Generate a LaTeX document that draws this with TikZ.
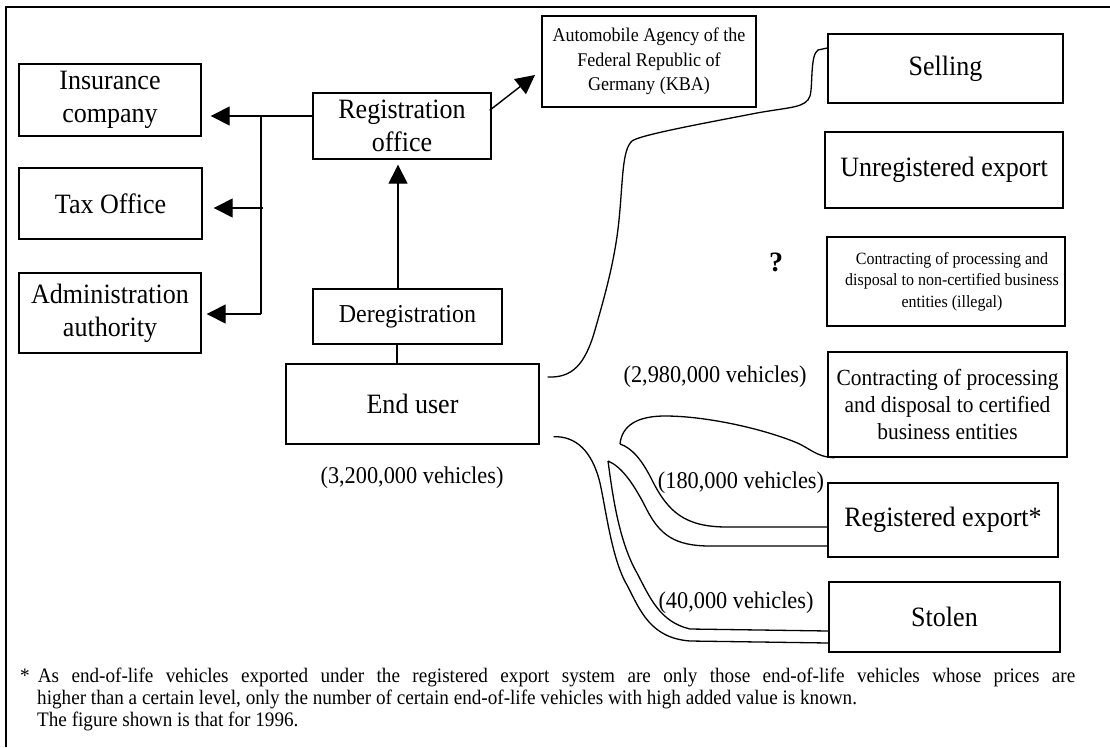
\documentclass[tikz,border=0pt]{standalone}
\usepackage{fontspec}
\setmainfont{Liberation Serif}
\newfontfamily\cond[FakeStretch=0.93]{Liberation Serif}
\usetikzlibrary{arrows.meta}
\begin{document}
\begin{tikzpicture}[x=1pt,y=-1pt,
  box/.style={draw, line width=1.4pt, inner sep=0pt, align=center},
  big/.style={font=\cond\fontsize{28}{33}\selectfont},
  mid/.style={font=\cond\fontsize{23.1}{27}\selectfont},
  small/.style={font=\cond\fontsize{19.4}{24.5}\selectfont},
  tiny/.style={font=\cond\fontsize{17.2}{21.5}\selectfont},
  lab/.style={font=\cond\fontsize{24}{27}\selectfont, inner sep=0pt},
  fn/.style={font=\cond\fontsize{20.6}{21.5}\selectfont, inner sep=0pt, anchor=base west},
  conn/.style={line width=1.4pt},
  arr/.style={line width=1.4pt, -{Triangle[length=19pt,width=19pt]}},
  flow/.style={line width=1.3pt},
  frame/.style={line width=2pt}]
\useasboundingbox (0,0) rectangle (1110,747);
% frame
\draw[frame] (6,747) -- (6,6.5) -- (1110,6.5);
% left column
\node[box, big, minimum width=182pt, minimum height=72pt] (ins) at (110,100) {Insurance\\company};
\node[box, big, minimum width=183pt, minimum height=71pt] (tax) at (110.5,203.5) {Tax Office};
\node[box, big, minimum width=182pt, minimum height=80pt] (adm) at (110,313) {Administration\\authority};
% center
\node[box, big, minimum width=178pt, minimum height=66pt] (reg) at (402,126) {Registration\\office};
\node[box, small, minimum width=214pt, minimum height=91pt] (kba) at (649,61.5) {Automobile Agency of the\\Federal Republic of\\Germany (KBA)};
\node[box, font=\cond\fontsize{25.8}{28}\selectfont, minimum width=189pt, minimum height=55pt] (dereg) at (407.5,316.5) {Deregistration};
\node[box, big, minimum width=253pt, minimum height=80pt] (end) at (412.5,404) {End user};
\node[lab] (l1) at (412,478) {(3,200,000 vehicles)};
% right column
\node[box, big, minimum width=235pt, minimum height=69pt] (sell) at (945.5,68.5) {Selling};
\node[box, big, minimum width=238pt, minimum height=76pt] (unreg) at (944,170) {Unregistered export};
\node[box, tiny, minimum width=238pt, minimum height=89pt] (noncert) at (946,281.5) {\hspace*{12pt}Contracting of processing and\\\hspace*{12pt}disposal to non-certified business\\\hspace*{12pt}entities (illegal)};
\node[box, mid, minimum width=239pt, minimum height=105pt] (cert) at (947.5,404.5) {Contracting of processing\\and disposal to certified\\business entities};
\node[box, big, minimum width=230pt, minimum height=74pt] (regexp) at (943,520) {Registered export*};
\node[box, big, minimum width=231pt, minimum height=70pt] (stolen) at (944.5,617) {Stolen};
\node[font=\bfseries\fontsize{28}{30}\selectfont, inner sep=0pt] (q) at (776,262) {?};
\node[lab] (l2) at (715,377) {(2,980,000 vehicles)};
\node[lab] (l3) at (741,483) {(180,000 vehicles)};
\node[lab] (l4) at (736,603) {(40,000 vehicles)};
% left connectors
\coordinate (j1) at (261,116);
\coordinate (j2) at (263,208);
\coordinate (j3) at (261,314);
\draw[arr, shorten >=9pt] ([yshift=10pt]reg.west) -- (ins.east |- j1);
\draw[conn] (j1) -- (261,314);
\draw[arr, shorten >=11pt] (j2) -- (tax.east |- j2);
\draw[arr, shorten >=5pt] (j3) -- (adm.east |- j3);
% registration connectors
\draw[arr, shorten >=5pt] ([xshift=-9.5pt]dereg.north) -- ([xshift=-9.5pt]dereg.north |- reg.south);
\draw[conn] ([xshift=-10.5pt]dereg.south) -- ([xshift=-10.5pt]dereg.south |- end.north);
\coordinate (kt) at (535,75);
\draw[arr] ([shift={(-2pt,-18pt)}]reg.north east) -- (kt);
% selling curve
\draw[flow] ([shift={(8pt,27pt)}]end.east) .. controls (572,378) and (585,365) .. (595,330)
  .. controls (605,295) and (615,260) .. (619,220)
  .. controls (623,180) and (622,150) .. (632,141)
  .. controls (640,135) and (700,124) .. (757,113)
  .. controls (790,107) and (806,108) .. (810,96)
  .. controls (813,85) and (810,55) .. (818,50)
  -- ([yshift=20.5pt]sell.west);
% lower flows
\coordinate (v1) at (608,461);
\coordinate (v2) at (620,444);
\draw[flow] ([shift={(14pt,8pt)}]end.south east) .. controls (575,436) and (592,450) .. (600,483)
  .. controls (606,510) and (612,560) .. (627,585)
  .. controls (640,610) and (650,638) .. (690,641) -- ([yshift=-26pt]stolen.west);
\draw[flow] (v1) .. controls (612,490) and (618,540) .. (637,573)
  .. controls (650,598) and (660,622) .. (690,629) -- ([yshift=-14pt]stolen.west);
\draw[flow] (v1) .. controls (620,466) and (632,480) .. (647,510)
  .. controls (660,535) and (675,546) .. (710,546) -- ([yshift=-26pt]regexp.west);
\draw[flow] (v2) .. controls (632,448) and (642,460) .. (652,480)
  .. controls (668,512) and (685,527) .. (727,527) -- ([yshift=-7pt]regexp.west);
\draw[flow] (v2) .. controls (622,425) and (638,416) .. (665,416)
  .. controls (705,416) and (760,428) .. (795,442)
  .. controls (810,448) and (816,457) .. ([xshift=7pt]cert.south west);
% footnote
\node[fn] (f1) at (20,682) {\hbox to 1055pt{*\hspace{8pt}As end-of-life vehicles exported under the registered export system are only those end-of-life vehicles whose prices are}};
\node[fn] (f2) at (37,704) {higher than a certain level, only the number of certain end-of-life vehicles with high added value is known.};
\node[fn] (f3) at (37,726) {The figure shown is that for 1996.};
\end{tikzpicture}
\end{document}
